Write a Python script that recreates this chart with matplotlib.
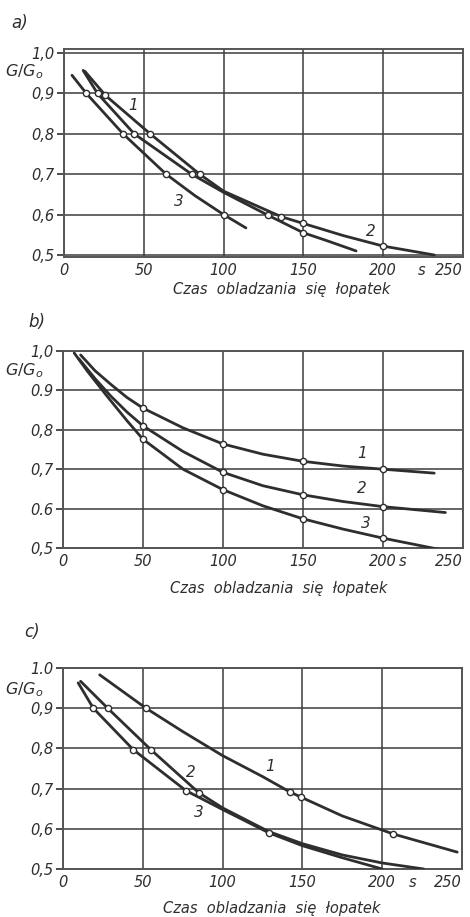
import matplotlib
matplotlib.use("Agg")
import matplotlib.pyplot as plt
import matplotlib.transforms as mtransforms

plt.rcParams['font.family'] = ['DejaVu Sans']
plt.rcParams['mathtext.fontset'] = 'dejavusans'

FIG_W, FIG_H = 470, 917
INK = '#2e2e2e'

# --- wykres a) -------------------------------------------------------------
a1_x = [13, 26, 54, 85, 100, 136, 150, 175, 200, 232]
a1_y = [0.955, 0.895, 0.80, 0.70, 0.658, 0.595, 0.578, 0.548, 0.522, 0.50]
a1_mx = [26, 54, 85, 136, 150, 200]
a1_my = [0.895, 0.80, 0.70, 0.595, 0.578, 0.522]

a2_x = [12, 21, 44, 80, 100, 128, 150, 165, 183]
a2_y = [0.957, 0.90, 0.80, 0.70, 0.655, 0.598, 0.555, 0.535, 0.51]
a2_mx = [21, 44, 80, 128, 150]
a2_my = [0.90, 0.80, 0.70, 0.598, 0.555]

a3_x = [5, 14, 37, 64, 82, 100, 114]
a3_y = [0.945, 0.90, 0.80, 0.70, 0.647, 0.60, 0.567]
a3_mx = [14, 37, 64, 100]
a3_my = [0.90, 0.80, 0.70, 0.60]

# --- wykres b) -------------------------------------------------------------
b1_x = [11, 20, 30, 40, 50, 75, 100, 125, 150, 175, 200, 232]
b1_y = [0.99, 0.95, 0.915, 0.882, 0.855, 0.805, 0.764, 0.738, 0.72, 0.708, 0.70, 0.69]
b2_x = [10, 20, 30, 40, 50, 75, 100, 125, 150, 175, 200, 239]
b2_y = [0.98, 0.93, 0.885, 0.845, 0.81, 0.745, 0.692, 0.658, 0.635, 0.618, 0.605, 0.59]
b3_x = [7, 15, 27, 40, 50, 75, 100, 125, 150, 175, 200, 237]
b3_y = [0.995, 0.95, 0.888, 0.823, 0.776, 0.70, 0.648, 0.607, 0.574, 0.548, 0.525, 0.495]
b_mx = [50, 100, 150, 200]
b1_my = [0.855, 0.764, 0.72, 0.70]
b2_my = [0.81, 0.692, 0.635, 0.605]
b3_my = [0.776, 0.648, 0.574, 0.525]

# --- wykres c) -------------------------------------------------------------
c1_x = [23, 52, 75, 100, 125, 142, 149, 175, 207, 247]
c1_y = [0.983, 0.90, 0.842, 0.782, 0.73, 0.692, 0.679, 0.632, 0.587, 0.542]
c1_mx = [52, 142, 149, 207]
c1_my = [0.90, 0.692, 0.679, 0.587]

c2_x = [11, 28, 55, 85, 100, 129, 150, 175, 200, 226]
c2_y = [0.967, 0.90, 0.797, 0.69, 0.652, 0.593, 0.563, 0.535, 0.515, 0.50]
c2_mx = [28, 55, 85]
c2_my = [0.90, 0.797, 0.69]

c3_x = [9.5, 19, 44, 77, 100, 129, 150, 175, 200]
c3_y = [0.963, 0.90, 0.797, 0.695, 0.648, 0.59, 0.558, 0.528, 0.50]
c3_mx = [19, 44, 77, 129]
c3_my = [0.90, 0.797, 0.695, 0.59]

x_ticks = [0, 50, 100, 150, 200, 250]
y_ticks = [0.5, 0.6, 0.7, 0.8, 0.9, 1.0]
a_ylabels = ['0,5', '0,6', '0,7', '0,8', '0,9', '1,0']
b_ylabels = ['0,5', '0.6', '0,7', '0,8', '0.9', '1,0']
c_ylabels = ['0,5', '0,6', '0,7', '0,8', '0,9', '1.0']

XLABEL = 'Czas  obladzania  się  łopatek'
FS = 10.5


def px_axes(fig, left, top, right, bottom):
    """Osie podane w pikselach obrazka (od lewego gornego rogu)."""
    return fig.add_axes([left / FIG_W, 1 - bottom / FIG_H,
                         (right - left) / FIG_W, (bottom - top) / FIG_H])


def style_axes(ax, ylabels, ylim):
    ax.set_xlim(0, 250)
    ax.set_ylim(*ylim)
    ax.set_xticks(x_ticks)
    ax.set_yticks(y_ticks)
    ax.set_xticklabels([str(t) for t in x_ticks], style='italic', fontsize=FS, color=INK)
    ax.set_yticklabels(ylabels, style='italic', fontsize=FS, color=INK)
    # ostatnia etykieta (250) wyrownana do prawej krawedzi
    ax.get_xticklabels()[-1].set_ha('right')
    ax.tick_params(axis='x', length=0, pad=4)
    ax.tick_params(axis='y', direction='out', length=5, width=1.2, color=INK, pad=2)
    ax.grid(True, color='#3c3c3c', lw=1.1)
    ax.set_axisbelow(True)
    for sp in ax.spines.values():
        sp.set_color('#555555')
        sp.set_linewidth(1.4)


def draw_curve(ax, x, y, mx=None, my=None):
    ax.plot(x, y, color=INK, lw=2.0, solid_capstyle='round', zorder=3)
    if mx:
        ax.plot(mx, my, 'o', ms=4.5, mfc='white', mec=INK, mew=1.0, zorder=4)


def label(ax, x, y, s):
    ax.text(x, y, s, style='italic', fontsize=11, color=INK, ha='center', va='center', zorder=5)


def unit_s(ax, x):
    # jednostka "s" w linii etykiet osi x
    trans = mtransforms.blended_transform_factory(ax.transData, ax.transAxes)
    trans = trans + mtransforms.ScaledTranslation(0, -5.6 / 100, ax.figure.dpi_scale_trans)
    ax.text(x, 0, 's', transform=trans, style='italic', fontsize=FS, color=INK,
            ha='center', va='top')


def ratio_label(fig, x, y):
    fig.text(x / FIG_W, 1 - y / FIG_H, r'$\mathit{G/G_o}$', fontsize=11.5,
             color=INK, ha='center', va='center')


def fig_text(fig, x, y, s, size=FS):
    fig.text(x / FIG_W, 1 - y / FIG_H, s, style='italic', fontsize=size,
             color=INK, ha='center', va='center')


def main():
    fig = plt.figure(figsize=(FIG_W / 100, FIG_H / 100), dpi=100)

    # a)
    ax = px_axes(fig, 64, 49, 463, 257)
    style_axes(ax, a_ylabels, (0.495, 1.01))
    draw_curve(ax, a1_x, a1_y, a1_mx, a1_my)
    draw_curve(ax, a2_x, a2_y, a2_mx, a2_my)
    draw_curve(ax, a3_x, a3_y, a3_mx, a3_my)
    label(ax, 43, 0.87, '1')
    label(ax, 192, 0.557, '2')
    label(ax, 72, 0.633, '3')
    unit_s(ax, 224)
    fig_text(fig, 282, 290, XLABEL)
    fig_text(fig, 20, 23, 'a)', 12)
    ratio_label(fig, 24, 72)

    # b)
    ax = px_axes(fig, 63, 351, 463, 548)
    style_axes(ax, b_ylabels, (0.5, 1.0))
    draw_curve(ax, b1_x, b1_y, b_mx, b1_my)
    draw_curve(ax, b2_x, b2_y, b_mx, b2_my)
    draw_curve(ax, b3_x, b3_y, b_mx, b3_my)
    label(ax, 187, 0.741, '1')
    label(ax, 187, 0.652, '2')
    label(ax, 189, 0.563, '3')
    unit_s(ax, 212)
    fig_text(fig, 279, 588, XLABEL)
    fig_text(fig, 37, 322, 'b)', 12)
    ratio_label(fig, 24, 371)

    # c)
    ax = px_axes(fig, 63, 668, 462, 869)
    style_axes(ax, c_ylabels, (0.5, 1.0))
    draw_curve(ax, c1_x, c1_y, c1_mx, c1_my)
    draw_curve(ax, c2_x, c2_y, c2_mx, c2_my)
    draw_curve(ax, c3_x, c3_y, c3_mx, c3_my)
    label(ax, 130, 0.754, '1')
    label(ax, 80, 0.74, '2')
    label(ax, 85, 0.64, '3')
    unit_s(ax, 219)
    fig_text(fig, 272, 909, XLABEL)
    fig_text(fig, 32, 632, 'c)', 12)
    ratio_label(fig, 24, 690)

    fig.savefig('out.png', dpi=100)
    plt.close(fig)


if __name__ == "__main__":
    main()
